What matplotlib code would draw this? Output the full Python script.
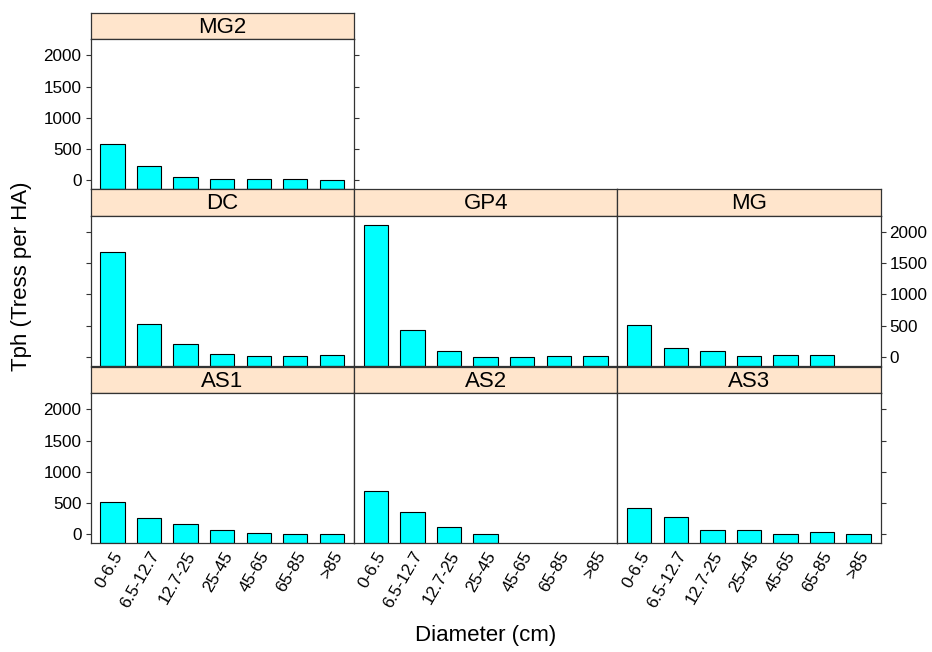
"""Tree density by diameter class, one panel per site."""

import matplotlib.pyplot as plt
import numpy as np

plt.rcParams["font.family"] = ["Liberation Sans", "DejaVu Sans"]

diameter_classes = ["0-6.5", "6.5-12.7", "12.7-25", "25-45", "45-65", "65-85", ">85"]

# trees per hectare for each diameter class (nan = no trees recorded)
mg2 = [575, 223, 48, 27, 16, 16, 5]
dc = [1681, 527, 207, 37, 5, 5, 21]
gp4 = [2108, 430, 91, 3, 3, 11, 16]
mg = [506, 145, 91, 16, 32, 32, np.nan]
as1 = [511, 261, 160, 74, 27, 2, 2]
as2 = [697, 351, 122, 2, np.nan, np.nan, np.nan]
as3 = [415, 282, 74, 74, 2, 32, 2]

sites = ["MG2", "DC", "GP4", "MG", "AS1", "AS2", "AS3"]
site_values = [mg2, dc, gp4, mg, as1, as2, as3]
# (row, column) of each site in the grid
site_cells = [(0, 0), (1, 0), (1, 1), (1, 2), (2, 0), (2, 1), (2, 2)]

y_ticks = [0, 500, 1000, 1500, 2000]

W, H = 932, 652
fig = plt.figure(figsize=(W / 100, H / 100), dpi=100)

col_left = [90.5, 354.0, 617.3]
col_width = 263.3
row_top = [12.7, 189.3, 366.7]
strip_h = 26.7
panel_h = 150.0

strip_color = "#FFE5CC"
bar_color = "#00FFFF"
line_color = "#333333"

vmax = np.nanmax(np.concatenate([np.asarray(v, float) for v in site_values]))
ylim = (-0.07 * vmax, 1.07 * vmax)
x = np.arange(1, len(diameter_classes) + 1)


def px_axes(left, top, width, height):
    return fig.add_axes([left / W, 1 - (top + height) / H, width / W, height / H])


for site, values, (row, col) in zip(sites, site_values, site_cells):
    left = col_left[col]
    top = row_top[row]

    # strip with the site name
    sax = px_axes(left, top, col_width, strip_h)
    sax.set_facecolor(strip_color)
    sax.set_xticks([])
    sax.set_yticks([])
    for sp in sax.spines.values():
        sp.set_color(line_color)
        sp.set_linewidth(0.9)
    sax.text(0.5, 0.45, site, ha="center", va="center", fontsize=16,
             transform=sax.transAxes)

    ax = px_axes(left, top + strip_h, col_width, panel_h)
    vals = np.asarray(values, float)
    ok = np.isfinite(vals)
    ax.bar(x[ok], vals[ok] - ylim[0], bottom=ylim[0], width=2 / 3,
           color=bar_color, edgecolor="black", linewidth=0.8)
    ax.set_xlim(0.4, len(diameter_classes) + 0.6)
    ax.set_ylim(*ylim)
    for sp in ax.spines.values():
        sp.set_color(line_color)
        sp.set_linewidth(0.9)

    # category labels only along the bottom row
    if row == 2:
        ax.set_xticks(x)
        ax.set_xticklabels(diameter_classes, rotation=60, ha="right",
                           va="top", rotation_mode="anchor", fontsize=12.3)
        ax.tick_params(axis="x", length=0, pad=4)
    else:
        ax.set_xticks([])

    # y axis alternates sides row by row, ticks on the outer edges
    ax.set_yticks(y_ticks)
    is_left = col == 0
    is_right = (row == 0 and col == 0) or col == 2
    label_left = is_left and row in (0, 2)
    label_right = is_right and row == 1
    ax.tick_params(axis="y", direction="out", length=3.4, width=0.8,
                   colors=line_color, labelcolor="black", labelsize=12.3,
                   left=is_left, right=is_right,
                   labelleft=label_left, labelright=label_right, pad=3)

fig.text(22 / W, 1 - 276 / H, "Tph (Tress per HA)", rotation=90,
         ha="center", va="center", fontsize=16)
fig.text(485.5 / W, 1 - 636 / H, "Diameter (cm)", ha="center", va="center",
         fontsize=16)

fig.savefig("out.png", dpi=100)
